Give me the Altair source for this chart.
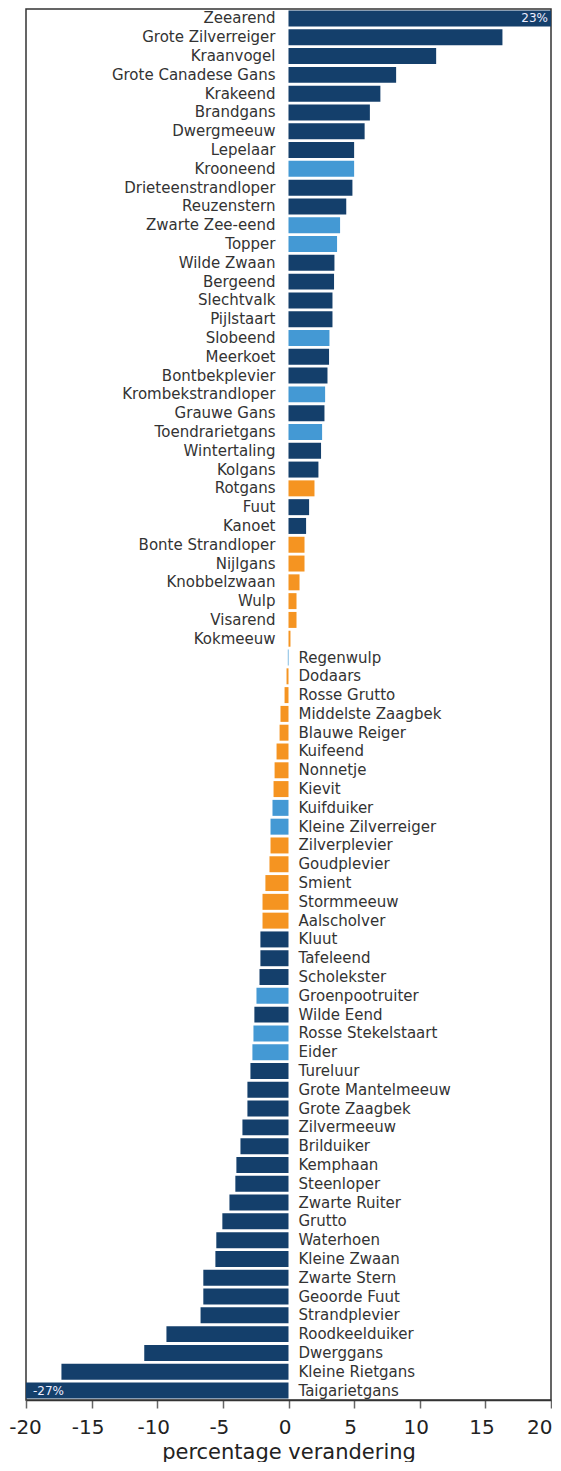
import altair as alt
import pandas as pd

species = [
    "Zeearend", "Grote Zilverreiger", "Kraanvogel", "Grote Canadese Gans", "Krakeend",
    "Brandgans", "Dwergmeeuw", "Lepelaar", "Krooneend", "Drieteenstrandloper",
    "Reuzenstern", "Zwarte Zee-eend", "Topper", "Wilde Zwaan", "Bergeend",
    "Slechtvalk", "Pijlstaart", "Slobeend", "Meerkoet", "Bontbekplevier",
    "Krombekstrandloper", "Grauwe Gans", "Toendrarietgans", "Wintertaling", "Kolgans",
    "Rotgans", "Fuut", "Kanoet", "Bonte Strandloper", "Nijlgans",
    "Knobbelzwaan", "Wulp", "Visarend", "Kokmeeuw",
    "Regenwulp", "Dodaars", "Rosse Grutto", "Middelste Zaagbek", "Blauwe Reiger",
    "Kuifeend", "Nonnetje", "Kievit", "Kuifduiker", "Kleine Zilverreiger",
    "Zilverplevier", "Goudplevier", "Smient", "Stormmeeuw", "Aalscholver",
    "Kluut", "Tafeleend", "Scholekster", "Groenpootruiter", "Wilde Eend",
    "Rosse Stekelstaart", "Eider", "Tureluur", "Grote Mantelmeeuw", "Grote Zaagbek",
    "Zilvermeeuw", "Brilduiker", "Kemphaan", "Steenloper", "Zwarte Ruiter",
    "Grutto", "Waterhoen", "Kleine Zwaan", "Zwarte Stern", "Geoorde Fuut",
    "Strandplevier", "Roodkeelduiker", "Dwerggans", "Kleine Rietgans", "Taigarietgans",
]

change = [
    23, 16.3, 11.25, 8.2, 7.0,
    6.2, 5.8, 5.0, 5.0, 4.87,
    4.4, 3.93, 3.7, 3.5, 3.47,
    3.35, 3.35, 3.12, 3.09, 2.97,
    2.79, 2.74, 2.56, 2.48, 2.28,
    1.98, 1.57, 1.34, 1.22, 1.22,
    0.84, 0.61, 0.61, 0.15,
    -0.05, -0.15, -0.3, -0.61, -0.68,
    -0.91, -1.06, -1.14, -1.22, -1.37,
    -1.37, -1.45, -1.76, -1.98, -1.98,
    -2.14, -2.14, -2.21, -2.44, -2.6,
    -2.67, -2.75, -2.9, -3.13, -3.13,
    -3.51, -3.66, -3.97, -4.05, -4.5,
    -5.04, -5.5, -5.57, -6.49, -6.49,
    -6.7, -9.3, -10.99, -17.3, -27,
]

# D = donker (dark), L = licht (light), O = oranje (orange)
group = [
    "D", "D", "D", "D", "D",
    "D", "D", "D", "L", "D",
    "D", "L", "L", "D", "D",
    "D", "D", "L", "D", "D",
    "L", "D", "L", "D", "D",
    "O", "D", "D", "O", "O",
    "O", "O", "O", "O",
    "L", "O", "O", "O", "O",
    "O", "O", "O", "L", "L",
    "O", "O", "O", "O", "O",
    "D", "D", "D", "L", "D",
    "L", "L", "D", "D", "D",
    "D", "D", "D", "D", "D",
    "D", "D", "D", "D", "D",
    "D", "D", "D", "D", "D",
]

group_names = ["D", "L", "O"]
group_colors = ["#143F6B", "#4499D4", "#F59421"]

extreme_species = ["Zeearend", "Taigarietgans"]
extreme_labels = ["23%", "-27%"]

tick_values = [-20, -15, -10, -5, 0, 5, 10, 15, 20]

df = pd.DataFrame({"soort": species, "verandering": change, "groep": group})
ext = pd.DataFrame({"soort": extreme_species, "label": extreme_labels,
                    "verandering": [change[species.index(s)] for s in extreme_species]})

FONT = "DejaVu Sans"

xscale = alt.Scale(domain=[-20, 20], clamp=True, nice=False)
yenc = alt.Y("soort:N", sort=species, axis=None,
             scale=alt.Scale(paddingInner=0.15, paddingOuter=0.08))

bars = alt.Chart(df).mark_bar().encode(
    x=alt.X("verandering:Q", scale=xscale,
            axis=alt.Axis(values=tick_values, labelExpr="'' + datum.value",
                          labelOverlap=False, labelFlush=False,
                          labelAlign={"expr": "datum.value == 20 ? 'right' : 'center'"},
                          labelOffset={"expr": "datum.value == 20 ? 1 : (datum.value == -20 ? -1 : -4)"},
                          title="percentage verandering", grid=False,
                          labelFontSize=20, labelColor="#222", labelFont=FONT,
                          titleFontSize=21, titleColor="#222", titleFont=FONT,
                          titleFontWeight="normal", titlePadding=4,
                          tickSize=8, tickColor="#666", tickWidth=1.5,
                          domainColor="#333", domainWidth=1.5, labelPadding=9)),
    y=yenc,
    color=alt.Color("groep:N", scale=alt.Scale(domain=group_names, range=group_colors),
                    legend=None),
)

pos_labels = alt.Chart(df).transform_filter("datum.verandering >= 0").mark_text(
    align="right", baseline="middle", dx=-13, fontSize=15, font=FONT, color="#333"
).encode(x=alt.datum(0), y=yenc, text="soort:N")

neg_labels = alt.Chart(df).transform_filter("datum.verandering < 0").mark_text(
    align="left", baseline="middle", dx=10, fontSize=15, font=FONT, color="#333"
).encode(x=alt.datum(0), y=yenc, text="soort:N")

ext_pos = alt.Chart(ext).transform_filter("datum.verandering > 0").mark_text(
    align="right", baseline="middle", dx=-3, fontSize=12, font=FONT, color="#eef"
).encode(x=alt.datum(20), y=yenc, text="label:N")

ext_neg = alt.Chart(ext).transform_filter("datum.verandering < 0").mark_text(
    align="left", baseline="middle", dx=7, fontSize=12, font=FONT, color="#eef"
).encode(x=alt.datum(-20), y=yenc, text="label:N")

chart = alt.layer(bars, pos_labels, neg_labels, ext_pos, ext_neg).properties(
    width=525, height=1391,
    padding={"top": 1, "left": 0, "right": 0, "bottom": 0},
).configure_view(stroke="#333", strokeWidth=1.5)

chart.save("out.html", embed_options={"renderer": "svg", "actions": False})
